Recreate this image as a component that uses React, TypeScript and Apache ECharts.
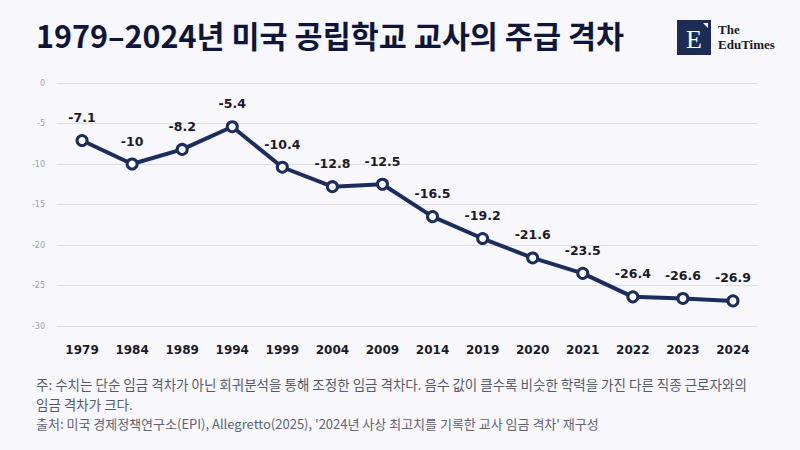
import { useEffect, useRef } from "react";
import * as echarts from "echarts";

const YEARS = ["1979", "1984", "1989", "1994", "1999", "2004", "2009", "2014", "2019", "2020", "2021", "2022", "2023", "2024"];
const WAGE_GAP = [-7.1, -10, -8.2, -5.4, -10.4, -12.8, -12.5, -16.5, -19.2, -21.6, -23.5, -26.4, -26.6, -26.9];

const TITLE = "1979–2024년 미국 공립학교 교사의 주급 격차";
const NOTE_LINES = [
  "주: 수치는 단순 임금 격차가 아닌 회귀분석을 통해 조정한 임금 격차다. 음수 값이 클수록 비슷한 학력을 가진 다른 직종 근로자와의",
  "임금 격차가 크다.",
];
const SOURCE = "출처: 미국 경제정책연구소(EPI), Allegretto(2025), '2024년 사상 최고치를 기록한 교사 임금 격차' 재구성";

const NAVY = "#1b2d5c";
const KR_FONT = "'Noto Sans CJK KR', 'Noto Sans', sans-serif";
const NUM_FONT = "'DejaVu Sans', Verdana, sans-serif";

export default function App() {
  const ref = useRef<HTMLDivElement>(null);

  useEffect(() => {
    document.body.style.margin = "0";
    if (!ref.current) return;
    const chart = echarts.init(ref.current, undefined, { renderer: "svg" });

    chart.setOption({
      animation: false,
      backgroundColor: "#f8f8fc",
      grid: { left: 57, right: 42, top: 83, bottom: 124 },
      xAxis: {
        type: "category",
        data: YEARS,
        axisLine: { show: false },
        axisTick: { show: false },
        axisLabel: { color: "#1a1a2a", fontSize: 12, fontWeight: "bold", fontFamily: NUM_FONT, margin: 18 },
      },
      yAxis: {
        type: "value",
        min: -30,
        max: 0,
        interval: 5,
        axisLine: { show: false },
        axisTick: { show: false },
        axisLabel: { color: "#9aa0b2", fontSize: 8, fontFamily: NUM_FONT, margin: 12 },
        splitLine: { lineStyle: { color: "#dcdee6", width: 1 } },
      },
      series: [
        {
          type: "line",
          data: WAGE_GAP,
          lineStyle: { color: NAVY, width: 4 },
          symbol: "circle",
          symbolSize: 10,
          itemStyle: { color: "#ffffff", borderColor: NAVY, borderWidth: 3 },
          label: {
            show: true,
            position: "top",
            distance: 10,
            color: "#1a1a2a",
            fontSize: 12.5,
            fontWeight: "bold",
            fontFamily: NUM_FONT,
          },
        },
      ],
      graphic: [
        {
          type: "text",
          left: 36,
          top: 20,
          style: { text: TITLE, font: `bold 30.5px ${KR_FONT}`, fill: "#10163a" },
        },
        {
          type: "group",
          left: 677,
          top: 20,
          children: [
            { type: "rect", shape: { x: 0, y: 0, width: 34, height: 35 }, style: { fill: "#1d2b57" } },
            { type: "polygon", shape: { points: [[26, 3], [31, 3], [31, 8]] }, style: { fill: "#ffffff" } },
            {
              type: "text",
              x: 17,
              y: 19,
              style: { text: "E", font: "26px 'Liberation Serif', serif", fill: "#ffffff", align: "center", verticalAlign: "middle" },
            },
            {
              type: "text",
              x: 41,
              y: 9,
              style: { text: "The", font: "bold 13px 'Liberation Serif', serif", fill: "#1a1a2a", verticalAlign: "middle" },
            },
            {
              type: "text",
              x: 41,
              y: 24,
              style: { text: "EduTimes", font: "bold 13px 'Liberation Serif', serif", fill: "#1a1a2a", verticalAlign: "middle" },
            },
          ],
        },
        ...NOTE_LINES.map((line, i) => ({
          type: "text",
          left: 36,
          top: 376 + i * 19.5,
          style: { text: line, font: `13.5px ${KR_FONT}`, fill: "#555a6a", lineHeight: 16 },
        })),
        {
          type: "text",
          left: 36,
          top: 415.5,
          style: { text: SOURCE, font: `13px ${KR_FONT}`, fill: "#5e6272", lineHeight: 16 },
        },
      ],
    });

    return () => chart.dispose();
  }, []);

  return <div ref={ref} style={{ width: 800, height: 450 }} />;
}
